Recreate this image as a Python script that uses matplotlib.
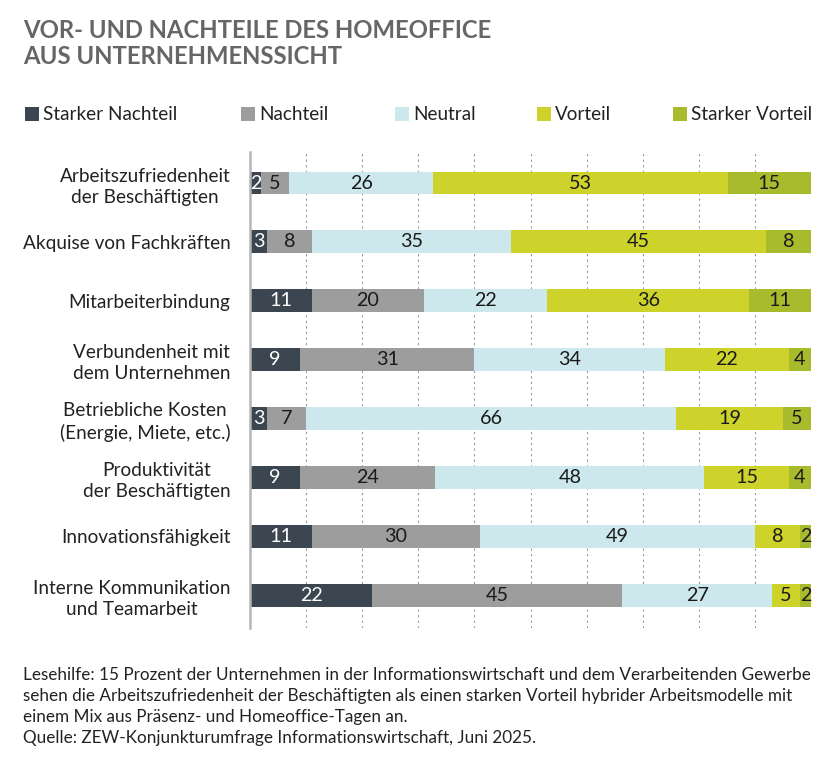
import matplotlib
matplotlib.use("Agg")
import matplotlib.pyplot as plt
import numpy as np
from matplotlib.patches import Rectangle

plt.rcParams["font.family"] = ["Lato", "DejaVu Sans"]

categories = [
    "Arbeitszufriedenheit\nder Beschäftigten",
    "Akquise von Fachkräften",
    "Mitarbeiterbindung",
    "Verbundenheit mit\ndem Unternehmen",
    "Betriebliche Kosten\n(Energie, Miete, etc.)",
    "Produktivität\nder Beschäftigten",
    "Innovationsfähigkeit",
    "Interne Kommunikation\nund Teamarbeit",
]
series_names = ["Starker Nachteil", "Nachteil", "Neutral", "Vorteil", "Starker Vorteil"]
starker_nachteil = [2, 3, 11, 9, 3, 9, 11, 22]
nachteil = [5, 8, 20, 31, 7, 24, 30, 45]
neutral = [26, 35, 22, 34, 66, 48, 49, 27]
vorteil = [53, 45, 36, 22, 19, 15, 8, 5]
starker_vorteil = [15, 8, 11, 4, 5, 4, 2, 2]

colors = ["#3b4650", "#9d9d9d", "#cce8ec", "#cdd32a", "#a8bb2c"]
text_colors = ["white", "#1a1a1a", "#1a1a1a", "#1a1a1a", "#1a1a1a"]

values = np.array([starker_nachteil, nachteil, neutral, vorteil, starker_vorteil], dtype=float)
shares = values / values.sum(axis=0) * 100  # bars are drawn as full-width stacks

W, H = 836, 768
fig = plt.figure(figsize=(W / 100, H / 100), dpi=100)
ax = fig.add_axes([250 / W, 1 - 628 / H, 561 / W, 476 / H])

y = np.arange(len(categories))
left = np.zeros(len(categories))
for i, name in enumerate(series_names):
    ax.barh(y, shares[i], left=left, height=0.39, color=colors[i], label=name, zorder=2)
    for j in range(len(categories)):
        ax.text(left[j] + shares[i][j] / 2, y[j], f"{int(values[i][j])}",
                ha="center", va="center", fontsize=14.2, color=text_colors[i], zorder=3)
    left += shares[i]

ax.set_xlim(0, 100)
ax.set_ylim(7.56, -0.527)
ax.set_xticks(np.arange(10, 101, 10))
ax.xaxis.grid(True, linestyle=(0, (2, 3)), color="#9a9a9a", linewidth=0.8, zorder=0)
ax.tick_params(axis="x", length=0, labelbottom=False)
ax.set_yticks(y)
ax.set_yticklabels(categories, fontsize=13.7, color="#222222", multialignment="center",
                   linespacing=1.3)
ax.tick_params(axis="y", length=0, pad=14)
for side in ["top", "right", "bottom"]:
    ax.spines[side].set_visible(False)
ax.spines["left"].set_color("#b5b5b5")
ax.spines["left"].set_linewidth(1.8)

fig.text(23 / W, 1 - 30 / H, "VOR- UND NACHTEILE DES HOMEOFFICE", fontsize=17.2,
         color="#666666", va="center", ha="left", fontweight="bold")
fig.text(23 / W, 1 - 57 / H, "AUS UNTERNEHMENSSICHT", fontsize=17.2,
         color="#666666", va="center", ha="left", fontweight="bold")

# legend: square + label per series
legend_x = [25, 241, 395, 537, 673]
for x0, c, n in zip(legend_x, colors, series_names):
    fig.patches.append(Rectangle((x0 / W, 1 - 121 / H), 14 / W, 14 / H, facecolor=c,
                                 transform=fig.transFigure, figure=fig))
    fig.text((x0 + 18) / W, 1 - 114 / H, n, fontsize=13.6, color="#222222",
             va="center", ha="left")

note = ("Lesehilfe: 15 Prozent der Unternehmen in der Informationswirtschaft und dem Verarbeitenden Gewerbe\n"
        "sehen die Arbeitszufriedenheit der Beschäftigten als einen starken Vorteil hybrider Arbeitsmodelle mit\n"
        "einem Mix aus Präsenz- und Homeoffice-Tagen an.\n"
        "Quelle: ZEW-Konjunkturumfrage Informationswirtschaft, Juni 2025.")
fig.text(23 / W, 1 - 667 / H, note, fontsize=12.3, color="#222222", va="top", ha="left",
         linespacing=1.38)

fig.savefig("out.png", dpi=100, facecolor="white")
